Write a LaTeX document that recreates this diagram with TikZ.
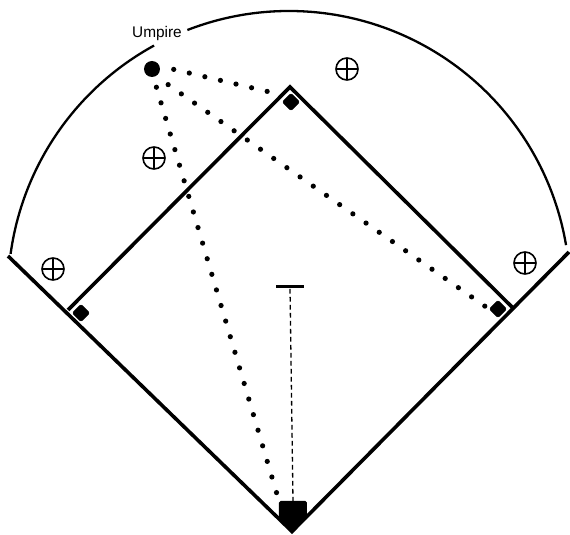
\documentclass[tikz,border=0pt]{standalone}
\usepackage{fontspec}
\setsansfont{Liberation Sans}
\usepackage{tikz}
\usetikzlibrary{shapes.geometric}

\tikzset{
    base/.style={shape=diamond, fill=black, draw=black, line width=0.3pt, rounded corners=1pt, inner sep=0pt, minimum width=8.8pt, minimum height=8.8pt},
    fielder/.style={shape=circle, draw=black, line width=0.8pt, inner sep=0pt, minimum size=11pt,
        path picture={\draw[line width=0.6pt] (path picture bounding box.north) -- (path picture bounding box.south)
            (path picture bounding box.west) -- (path picture bounding box.east);}},
    fieldline/.style={line width=1.8pt, line join=miter},
    fence/.style={line width=1.15pt},
    sight/.style={line width=2.6pt, line cap=round, dash pattern=on 0pt off #1}
}

\begin{document}
\begin{tikzpicture}[x=0.5pt, y=-0.5pt]
    \useasboundingbox (0,0) rectangle (570,535);
    \fill[white] (0,0) rectangle (570,535);

    % Corners of the field
    \coordinate (tip) at (292,531.5);
    \coordinate (leftend) at (8,256);
    \coordinate (rightend) at (569,252);
    \coordinate (corner3) at (68,310);
    \coordinate (corner2) at (290,87);
    \coordinate (corner1) at (513,308);
    \coordinate (arcleft) at (10.6,253.9);
    \coordinate (arcgap) at (187.4,30);

    % Nodes bases
    \node[base] (second) at (291,102) {};
    \node[base] (first) at (498,309) {};
    \node[base] (third) at (81,313) {};
    \node[fill=black, rounded corners=0.8pt, minimum width=14pt, minimum height=9.5pt, inner sep=0pt, outer sep=0pt] (home) at (293,510.5) {};
    \node[fill=black, minimum width=14pt, minimum height=1.5pt, inner sep=0pt] (rubber) at (290,287) {};

    % Nodes people
    \node[circle, fill=black, inner sep=0pt, minimum size=8pt] (ump) at (152,69) {};
    \node[font=\sffamily\fontsize{7.7}{9}\selectfont, inner sep=0pt] (umplabel) at (157,34) {Umpire};
    \node[fielder] (f1) at (347,69) {};
    \node[fielder] (f2) at (154,158) {};
    \node[fielder] (f3) at (53,269) {};
    \node[fielder] (f4) at (525,263) {};

    % Field lines
    \draw[fieldline] (leftend) -- (tip) -- (rightend);
    \draw[fieldline] (corner3) -- (corner2) -- (corner1);
    \fill ([yshift=1pt]home.south west) -- ([yshift=1pt]home.south east) -- (tip) -- cycle;

    % Outfield arc
    \draw[fence] (arcleft) arc[start angle=172.2, end angle=118.7, radius=140.5pt];
    \draw[fence] (arcgap) arc[start angle=111.2, end angle=9.6, radius=140.5pt];

    % Lines of sight
    \draw[sight=8pt, shorten <=7.1pt, shorten >=6pt] (ump.20) -- (second.120);
    \draw[sight=8.05pt, shorten <=7.3pt] (ump.-60) -- (first.west);
    \draw[sight=8.13pt, shorten <=5.2pt] (ump.-80) -- (home.north west);

    % Pitcher to plate
    \draw[line width=0.65pt, dash pattern=on 2.4pt off 1.6pt] (rubber) -- (home.north);
\end{tikzpicture}
\end{document}
